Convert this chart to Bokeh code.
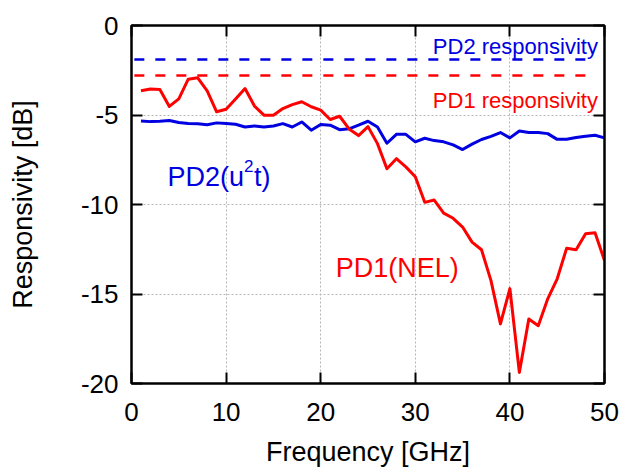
from bokeh.plotting import figure
from bokeh.models import LinearAxis, FixedTicker, Range1d, CustomLabelingPolicy
from bokeh.embed import file_html
from bokeh.resources import INLINE
from bokeh.core.properties import value

# ---------------- data ----------------
freq = list(range(1, 51))  # GHz
pd1_nel = [-3.65, -3.55, -3.57, -4.52, -4.10, -3.00, -2.92, -3.65, -4.82, -4.68,
           -4.10, -3.52, -4.50, -5.01, -5.01, -4.64, -4.42, -4.26, -4.54, -4.73,
           -5.25, -5.07, -5.78, -6.15, -5.65, -6.60, -8.00, -7.44, -7.90, -8.45,
           -9.88, -9.75, -10.48, -10.77, -11.26, -12.10, -12.53, -14.25, -16.67, -14.70,
           -19.38, -16.40, -16.77, -15.27, -14.15, -12.44, -12.53, -11.63, -11.58, -13.13]
pd2_u2t = [-5.33, -5.37, -5.35, -5.31, -5.42, -5.48, -5.49, -5.54, -5.44, -5.48,
           -5.52, -5.67, -5.61, -5.67, -5.61, -5.48, -5.67, -5.39, -5.85, -5.53,
           -5.57, -5.82, -5.77, -5.56, -5.35, -5.67, -6.58, -6.08, -6.08, -6.50,
           -6.30, -6.43, -6.50, -6.67, -6.93, -6.63, -6.37, -6.19, -5.98, -6.28,
           -5.89, -5.98, -5.98, -6.04, -6.36, -6.36, -6.26, -6.19, -6.13, -6.28]
pd2_resp = -1.9
pd1_resp = -2.8
ref_span = [0.3, 48.7]

x_ticks = [0, 10, 20, 30, 40, 50]
x_tick_labels = ["0", "10", "20", "30", "40", "50"]
y_ticks = [0, -5, -10, -15, -20]
y_tick_labels = ["0", "-5", "-10", "-15", "-20"]
x_title = "Frequency [GHz]"
y_title = "Responsivity [dB]"

FONT = "Liberation Sans"
RED = "#ff0000"
BLUE = "#0000e0"
INK = "black"

p = figure(width=624, height=469, x_range=Range1d(0, 50), y_range=Range1d(-20, 0),
           output_backend="svg", toolbar_location=None,
           min_border_left=131, min_border_right=20, min_border_top=25, min_border_bottom=86)
p.background_fill_color = "white"
p.border_fill_color = "white"
p.outline_line_color = INK
p.outline_line_width = 2

# grid
p.xgrid.ticker = FixedTicker(ticks=x_ticks)
p.ygrid.ticker = FixedTicker(ticks=y_ticks)
for g in (p.xgrid, p.ygrid):
    g.grid_line_color = "#b4b4b4"
    g.grid_line_dash = "2 2"
    g.grid_line_width = 1

def style_axis(ax, ticks, labels, show_labels):
    ax.ticker = FixedTicker(ticks=ticks)
    ax.axis_line_color = INK
    ax.axis_line_width = 2
    ax.major_tick_line_color = INK
    ax.major_tick_line_width = 2
    ax.major_tick_in = 11
    ax.major_tick_out = 0
    ax.minor_tick_line_color = None
    ax.major_label_text_font = FONT
    ax.axis_label_text_font = FONT
    ax.axis_label_text_font_style = "normal"
    ax.axis_label_text_color = "black"
    ax.major_label_text_color = "black"
    ax.axis_label_text_font_size = "27px"
    if show_labels:
        ax.major_label_text_font_size = "26px"
        ax.major_label_overrides = {t: l for t, l in zip(ticks, labels)}
    else:
        ax.major_label_text_font_size = "0px"
        ax.major_label_policy = CustomLabelingPolicy(code="return new Set()")
        ax.major_label_standoff = 0

xa = p.xaxis[0]
ya = p.yaxis[0]
style_axis(xa, x_ticks, x_tick_labels, True)
style_axis(ya, y_ticks, y_tick_labels, True)
xa.axis_label = x_title
ya.axis_label = y_title
xa.major_label_standoff = 19
xa.axis_label_standoff = 13
ya.major_label_standoff = 13
ya.axis_label_standoff = 40

top = LinearAxis()
style_axis(top, x_ticks, x_tick_labels, False)
p.add_layout(top, "above")
right = LinearAxis()
style_axis(right, y_ticks, y_tick_labels, False)
p.add_layout(right, "right")

# reference responsivities
p.line(x=ref_span, y=[pd2_resp, pd2_resp], line_color=BLUE, line_width=2.5, line_dash="10 11")
p.line(x=ref_span, y=[pd1_resp, pd1_resp], line_color=RED, line_width=2.5, line_dash="10 11")

# measured curves
p.line(x=freq, y=pd2_u2t, line_color=BLUE, line_width=3, line_join="round")
p.line(x=freq, y=pd1_nel, line_color=RED, line_width=3, line_join="round")

# annotations
p.text(x=[49.3], y=[-1.19], text=["PD2 responsivity"], text_color=BLUE,
       text_font=value(FONT), text_font_size="22px", text_align="right", text_baseline="alphabetic")
p.text(x=[49.3], y=[-4.17], text=["PD1 responsivity"], text_color=RED,
       text_font=value(FONT), text_font_size="22px", text_align="right", text_baseline="alphabetic")

p.text(x=[3.81], y=[-8.47], text=["PD2(u"], text_color=BLUE,
       text_font=value(FONT), text_font_size="27px", text_align="left", text_baseline="alphabetic")
p.text(x=[11.9], y=[-7.85], text=["2"], text_color=BLUE,
       text_font=value(FONT), text_font_size="17px", text_align="left", text_baseline="alphabetic")
p.text(x=[12.95], y=[-8.47], text=["t)"], text_color=BLUE,
       text_font=value(FONT), text_font_size="27px", text_align="left", text_baseline="alphabetic")

p.text(x=[21.6], y=[-13.54], text=["PD1(NEL)"], text_color=RED,
       text_font=value(FONT), text_font_size="27px", text_align="left", text_baseline="alphabetic")

open("out.html", "w").write(file_html(p, INLINE))
